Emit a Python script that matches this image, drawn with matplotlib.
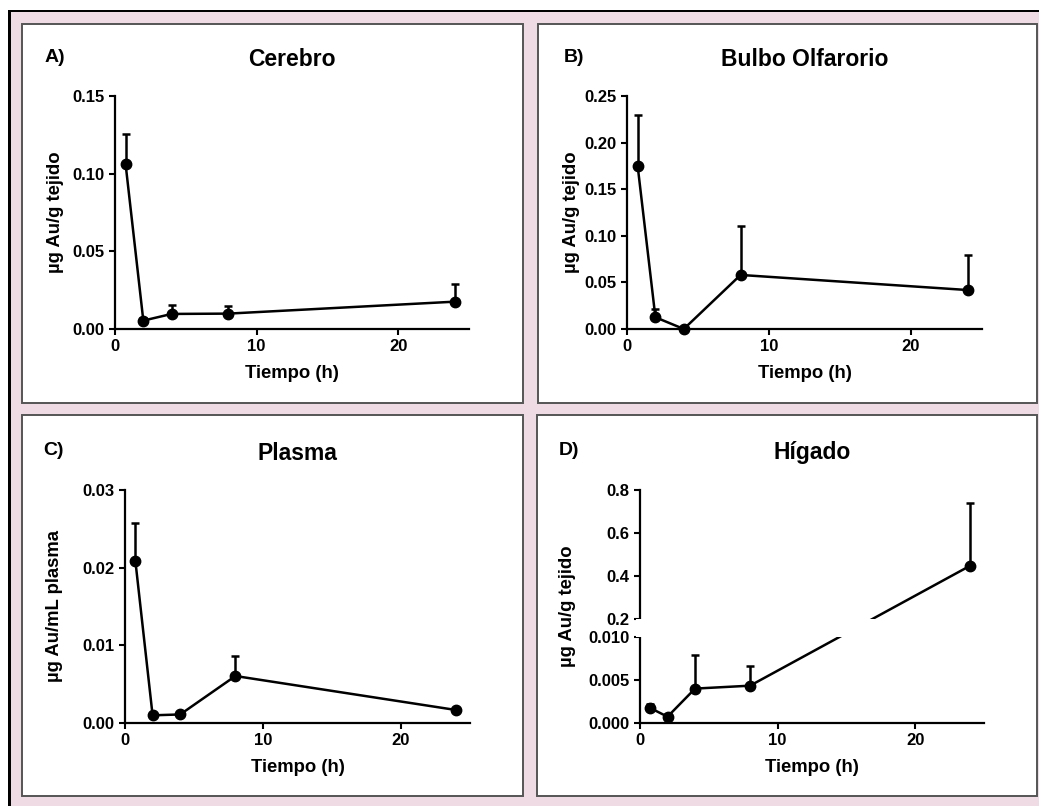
import numpy as np
import matplotlib
matplotlib.use("Agg")
import matplotlib.pyplot as plt
from matplotlib.patches import Rectangle
from matplotlib.ticker import FixedLocator, FormatStrFormatter, FixedFormatter

# datos (medias y error superior)
tiempo = [0.75, 2, 4, 8, 24]
cerebro = [0.106, 0.0054, 0.0097, 0.0099, 0.0176]
cerebro_err = [0.0196, 0.002, 0.0055, 0.0052, 0.0114]
bulbo = [0.175, 0.0126, 0.0, 0.058, 0.0418]
bulbo_err = [0.055, 0.0086, 0.0, 0.0525, 0.038]
plasma = [0.0209, 0.00099, 0.0011, 0.00605, 0.00167]
plasma_err = [0.0049, 0.0003, 0.0003, 0.0026, 0.0003]
higado = [0.00174, 0.00073, 0.0040, 0.00434, 0.448]
higado_err = [0.0005, 0.0003, 0.0039, 0.0023, 0.29]

x_ticks = [0, 10, 20]
x_label = "Tiempo (h)"

W, H = 1039, 806
plt.rcParams['font.family'] = ['Liberation Sans', 'DejaVu Sans']
plt.rcParams['font.weight'] = 'bold'
fig = plt.figure(figsize=(W / 100, H / 100), dpi=100)
fig.patch.set_facecolor('white')

PINK = '#efdbe3'


def rect_px(x0, y0, x1, y1, **kw):
    r = Rectangle((x0 / W, 1 - y1 / H), (x1 - x0) / W, (y1 - y0) / H,
                  transform=fig.transFigure, **kw)
    fig.add_artist(r)
    return r


# fondo rosado y marco negro
rect_px(9, 11, W, H, facecolor=PINK, edgecolor='none', zorder=-5)
rect_px(7.5, 9.5, W, 12, facecolor='black', edgecolor='none', zorder=-4)
rect_px(7.5, 9.5, 10.5, H, facecolor='black', edgecolor='none', zorder=-4)

# paneles blancos
panels = [(22, 24, 523, 403), (538, 24, 1037, 403),
          (22, 415, 523, 796), (537, 415, 1037, 796)]
for p in panels:
    rect_px(*p, facecolor='white', edgecolor='#555555', linewidth=1.4, zorder=-3)


def axes_px(x0, x1, ytop, ybot):
    return fig.add_axes([x0 / W, 1 - ybot / H, (x1 - x0) / W, (ybot - ytop) / H])


def style(ax, ylim, yticks):
    ax.set_facecolor('none')
    for s in ['top', 'right']:
        ax.spines[s].set_visible(False)
    for s in ['left', 'bottom']:
        ax.spines[s].set_linewidth(1.6)
    ax.set_xlim(0, 25)
    ax.set_ylim(*ylim)
    ax.set_xticks(x_ticks)
    ax.set_yticks(yticks)
    ax.tick_params(direction='out', length=4.5, width=1.5, labelsize=12, pad=3)
    for lab in ax.get_xticklabels() + ax.get_yticklabels():
        lab.set_fontweight('bold')


def serie(ax, y, err):
    c = ax.errorbar(tiempo, y, yerr=[np.zeros(len(err)), err], fmt='-o', color='black',
                    lw=1.8, ms=7.5, capsize=3, capthick=1.8, elinewidth=1.8, zorder=3)
    for a in [c.lines[0]] + list(c.lines[1]) + list(c.lines[2]):
        a.set_clip_on(False)


def textos(ax_box, label, title, ylabel, lab_xy, title_y, xlab_y, ylab_x):
    x0, x1, ytop, ybot = ax_box
    cx = (x0 + x1) / 2
    fig.text(lab_xy[0] / W, 1 - lab_xy[1] / H, label, fontsize=14, fontweight='bold',
             ha='left', va='center')
    fig.text(cx / W, 1 - title_y / H, title, fontsize=16.5, fontweight='bold',
             ha='center', va='center')
    fig.text(cx / W, 1 - xlab_y / H, x_label, fontsize=13.3, fontweight='bold',
             ha='center', va='center')
    fig.text(ylab_x / W, 1 - (ytop + ybot) / 2 / H, ylabel, fontsize=13.3,
             fontweight='bold', rotation=90, ha='center', va='center')


# A) Cerebro
boxA = (115, 469, 96, 329)
axA = axes_px(*boxA)
style(axA, (0, 0.15), [0, 0.05, 0.10, 0.15])
axA.yaxis.set_major_formatter(FormatStrFormatter('%.2f'))
serie(axA, cerebro, cerebro_err)
textos(boxA, "A)", "Cerebro", "µg Au/g tejido", (45, 57), 59, 373, 56)

# B) Bulbo Olfarorio
boxB = (627, 982, 96, 329)
axB = axes_px(*boxB)
style(axB, (0, 0.25), [0, 0.05, 0.10, 0.15, 0.20, 0.25])
axB.yaxis.set_major_formatter(FormatStrFormatter('%.2f'))
serie(axB, bulbo, bulbo_err)
textos(boxB, "B)", "Bulbo Olfarorio", "µg Au/g tejido", (564, 57), 59, 373, 572)

# C) Plasma
boxC = (125, 470, 490, 723)
axC = axes_px(*boxC)
style(axC, (0, 0.03), [0, 0.01, 0.02, 0.03])
axC.yaxis.set_major_formatter(FormatStrFormatter('%.2f'))
serie(axC, plasma, plasma_err)
textos(boxC, "C)", "Plasma", "µg Au/mL plasma", (43, 450), 453, 767, 55)

# D) Hígado, eje Y cortado (0-0.010 y 0.2-0.8)
brk_y = [0, 0.01, 0.2, 0.8]
brk_u = [0, 86, 104, 233]


def fwd(y):
    y = np.asarray(y, float)
    lo = y * (brk_u[1] / brk_y[1])
    mid = brk_u[1] + (y - brk_y[1]) * (brk_u[2] - brk_u[1]) / (brk_y[2] - brk_y[1])
    hi = brk_u[2] + (y - brk_y[2]) * (brk_u[3] - brk_u[2]) / (brk_y[3] - brk_y[2])
    return np.where(y < brk_y[1], lo, np.where(y < brk_y[2], mid, hi))


def inv(u):
    u = np.asarray(u, float)
    lo = u * (brk_y[1] / brk_u[1])
    mid = brk_y[1] + (u - brk_u[1]) * (brk_y[2] - brk_y[1]) / (brk_u[2] - brk_u[1])
    hi = brk_y[2] + (u - brk_u[2]) * (brk_y[3] - brk_y[2]) / (brk_u[3] - brk_u[2])
    return np.where(u < brk_u[1], lo, np.where(u < brk_u[2], mid, hi))


boxD = (640, 984, 490, 723)
axD = axes_px(*boxD)
axD.set_yscale('function', functions=(fwd, inv))
d_ticks = [0, 0.005, 0.010, 0.2, 0.4, 0.6, 0.8]
d_labels = ['0.000', '0.005', '0.010', '0.2', '0.4', '0.6', '0.8']
style(axD, (0, 0.8), d_ticks)
axD.yaxis.set_major_locator(FixedLocator(d_ticks))
axD.yaxis.set_major_formatter(FixedFormatter(d_labels))
axD.yaxis.set_minor_locator(FixedLocator([0.01, 0.2]))
axD.yaxis.set_minor_formatter(FixedFormatter(['', '']))
axD.tick_params(axis='y', which='minor', direction='in', length=4.5, width=1.5)
for lab in axD.get_yticklabels():
    lab.set_fontweight('bold')
serie(axD, higado, higado_err)
gap = Rectangle((-0.012, 0.0102), 1.02, 0.198 - 0.0102, transform=axD.get_yaxis_transform(),
                facecolor='white', edgecolor='none', zorder=4, clip_on=False)
axD.add_patch(gap)
textos(boxD, "D)", "Hígado", "µg Au/g tejido", (559, 450), 453, 767, 567)

fig.savefig("out.png", dpi=100)
